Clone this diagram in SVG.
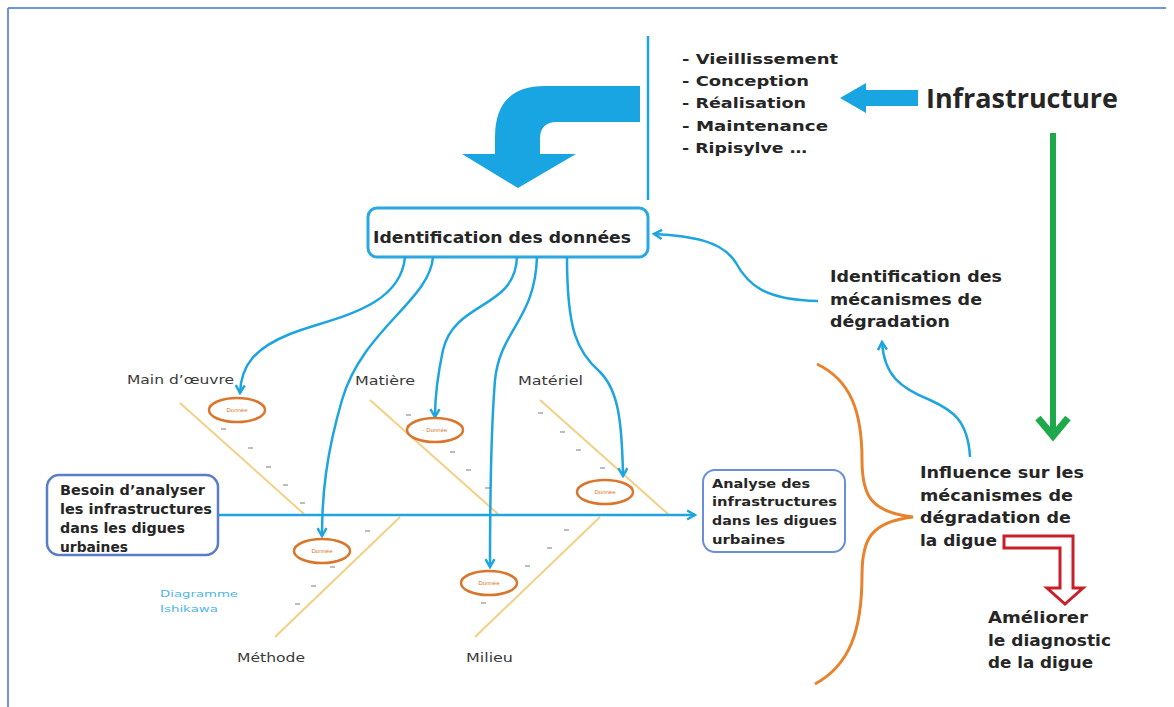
<svg xmlns="http://www.w3.org/2000/svg" width="1174" height="707" viewBox="0 0 1174 707">
<defs>
<style>
.b{font-family:"DejaVu Sans","Open Sans","Liberation Sans",sans-serif;font-weight:700;fill:#262626}
.r{font-family:"DejaVu Sans","Open Sans","Liberation Sans",sans-serif;font-weight:400;fill:#3a3a3a;font-size:12.5px}
.con{fill:none;stroke:#1ea5df;stroke-width:2.5}
.bone{stroke:#f2d084;stroke-width:2;fill:none}
.ell{fill:#fff;stroke:#d9762e;stroke-width:2.5}
.et{font-family:"Liberation Sans",sans-serif;font-size:6px;fill:#d9762e;text-anchor:middle}
.dash{stroke:#8f8f8f;stroke-width:1.2}
</style>
<marker id="ah" viewBox="0 0 10 10" refX="8" refY="5" markerWidth="4.5" markerHeight="4.5" orient="auto" markerUnits="strokeWidth">
<path d="M1,1 L8,5 L1,9" fill="none" stroke="#1ea5df" stroke-width="2.2"/>
</marker>
</defs>
<rect width="1174" height="707" fill="#fff"/>
<g id="frame" fill="none" stroke="#3b73d6" stroke-width="1.5">
<line x1="8" y1="8" x2="1166" y2="8"/>
<line x1="8" y1="8" x2="8" y2="707"/>
</g>

<g id="big-arrow">
<path d="M640,86 L545,86 Q495,86 495,137 L495,154 L462,154 L518,188 L576,154 L540,154 L540,139 Q540,122 557,122 L640,122 Z" fill="#19a4e2"/>
</g>
<g id="separator"><line x1="648" y1="36" x2="648" y2="200" stroke="#1ea5df" stroke-width="2.5"/></g>

<g id="list">
<text class="b" font-size="14.5" lengthAdjust="spacingAndGlyphs" x="682" y="64" textLength="156">- Vieillissement</text>
<text class="b" font-size="14.5" lengthAdjust="spacingAndGlyphs" x="682" y="86" textLength="127">- Conception</text>
<text class="b" font-size="14.5" lengthAdjust="spacingAndGlyphs" x="682" y="108" textLength="124">- Réalisation</text>
<text class="b" font-size="14.5" lengthAdjust="spacingAndGlyphs" x="682" y="131" textLength="146">- Maintenance</text>
<text class="b" font-size="14.5" lengthAdjust="spacingAndGlyphs" x="682" y="153" textLength="125">- Ripisylve …</text>
</g>

<g id="infra-arrow"><path d="M840,98 L866,83 L866,90 L918,90 L918,106 L866,106 L866,113 Z" fill="#19a4e2"/></g>
<g id="infrastructure"><text x="926" y="108" font-family="'Open Sans','DejaVu Sans',sans-serif" font-size="26" font-weight="700" fill="#262626" textLength="192" lengthAdjust="spacingAndGlyphs">Infrastructure</text></g>

<g id="identification-donnees">
<rect x="368" y="208" width="280" height="49" rx="9" fill="#fff" stroke="#2aa8e1" stroke-width="3"/>
<text class="b" x="373" y="243" font-size="15.5" textLength="258" lengthAdjust="spacingAndGlyphs">Identification des données</text>
</g>

<g id="identification-mecanismes">
<text class="b" font-size="15" x="830" y="282" textLength="172" lengthAdjust="spacingAndGlyphs">Identification des</text>
<text class="b" font-size="15" x="830" y="305" textLength="152" lengthAdjust="spacingAndGlyphs">mécanismes de</text>
<text class="b" font-size="15" x="830" y="327" textLength="120" lengthAdjust="spacingAndGlyphs">dégradation</text>
</g>

<g id="fishbone">
<line class="bone" x1="180" y1="403" x2="304" y2="514"/>
<line class="bone" x1="370" y1="400" x2="498" y2="514"/>
<line class="bone" x1="540" y1="400" x2="668" y2="514"/>
<line class="bone" x1="400" y1="517" x2="275" y2="637"/>
<line class="bone" x1="600" y1="517" x2="475" y2="637"/>
<g class="dash">
<line x1="221" y1="429" x2="226" y2="429"/><line x1="248" y1="448" x2="253" y2="448"/><line x1="266" y1="467" x2="271" y2="467"/><line x1="283" y1="485" x2="288" y2="485"/><line x1="300" y1="503" x2="305" y2="503"/>
<line x1="365" y1="531" x2="370" y2="531"/><line x1="330" y1="567" x2="335" y2="567"/><line x1="311" y1="586" x2="316" y2="586"/><line x1="295" y1="604" x2="300" y2="604"/>
<line x1="406" y1="415" x2="411" y2="415"/><line x1="450" y1="452" x2="455" y2="452"/><line x1="466" y1="470" x2="471" y2="470"/><line x1="485" y1="488" x2="490" y2="488"/>
<line x1="538" y1="413" x2="543" y2="413"/><line x1="560" y1="432" x2="565" y2="432"/><line x1="576" y1="450" x2="581" y2="450"/><line x1="600" y1="468" x2="605" y2="468"/>
<line x1="564" y1="530" x2="569" y2="530"/><line x1="547" y1="548" x2="552" y2="548"/><line x1="525" y1="566" x2="530" y2="566"/><line x1="481" y1="603" x2="486" y2="603"/>
</g>
</g>

<g id="labels">
<text class="r" x="127" y="384" textLength="107" lengthAdjust="spacingAndGlyphs">Main d’œuvre</text>
<text class="r" x="355" y="385" textLength="60" lengthAdjust="spacingAndGlyphs">Matière</text>
<text class="r" x="518" y="385" textLength="65" lengthAdjust="spacingAndGlyphs">Matériel</text>
<text class="r" x="237" y="662" textLength="68" lengthAdjust="spacingAndGlyphs">Méthode</text>
<text class="r" x="466" y="662" textLength="47" lengthAdjust="spacingAndGlyphs">Milieu</text>
<text font-family="'DejaVu Sans','Liberation Sans',sans-serif" font-size="9.5" fill="#4fb6ea" x="160" y="597" textLength="78" lengthAdjust="spacingAndGlyphs">Diagramme</text>
<text font-family="'DejaVu Sans','Liberation Sans',sans-serif" font-size="9.5" fill="#4fb6ea" x="160" y="612" textLength="58" lengthAdjust="spacingAndGlyphs">Ishikawa</text>
</g>

<g id="connectors">
<path class="con" d="M405,257 C400,310 330,318 290,334 C255,348 241,365 240,393" marker-end="url(#ah)"/>
<path class="con" d="M433,257 C430,300 362,330 342,400 C326,455 322,495 322,536" marker-end="url(#ah)"/>
<path class="con" d="M517,257 C515,310 455,300 443,350 C437,378 435,395 435,417" marker-end="url(#ah)"/>
<path class="con" d="M537,257 C535,320 500,330 495,380 C491,430 490,520 490,567" marker-end="url(#ah)"/>
<path class="con" d="M567,257 C567,330 577,352 600,372 C618,390 622,420 623,476" marker-end="url(#ah)"/>
<line class="con" x1="206" y1="515" x2="695" y2="515" marker-end="url(#ah)"/>
<path class="con" d="M818,301 C765,300 748,285 736,263 C722,240 690,236 654,234" marker-end="url(#ah)"/>
<path class="con" d="M970,457 C968,420 952,410 930,400 C900,388 884,375 882,342" marker-end="url(#ah)"/>
<g id="green-arrow" stroke="#1ea94b" fill="none">
<line x1="1053" y1="133" x2="1053" y2="434" stroke-width="6"/>
<polyline points="1038,418 1053,436 1068,418" stroke-width="7"/>
</g>
<path id="brace" d="M817,364 C850,380 862,410 862,460 C862,495 870,512 913,517 C870,522 862,540 862,575 C862,630 850,665 815,684" fill="none" stroke="#e8822d" stroke-width="3"/>
<path id="red-arrow" d="M1004,536 L1073,536 L1073,588 L1083,588 L1065,604 L1047,588 L1060,588 L1060,548 L1004,548 Z" fill="#fff" stroke="#c8202a" stroke-width="3" stroke-linejoin="miter"/>
</g>

<g id="ellipses">
<g id="e-main"><ellipse class="ell" cx="237" cy="410" rx="28" ry="12"/><text class="et" x="237" y="412">Donnée</text></g>
<g id="e-matiere"><ellipse class="ell" cx="435" cy="430" rx="28" ry="12"/><text class="et" x="435" y="432">- Donnée</text></g>
<g id="e-materiel"><ellipse class="ell" cx="605" cy="492" rx="28" ry="12"/><text class="et" x="605" y="494">Donnée</text></g>
<g id="e-methode"><ellipse class="ell" cx="322" cy="551" rx="28" ry="12"/><text class="et" x="322" y="553">Donnée</text></g>
<g id="e-milieu"><ellipse class="ell" cx="489" cy="583" rx="28" ry="12"/><text class="et" x="489" y="585">Donnée</text></g>
</g>

<g id="besoin">
<rect x="47" y="475" width="171" height="80" rx="12" fill="#fff" stroke="#5b7dc6" stroke-width="2.5"/>
<text class="b" font-size="14" x="60" y="495" textLength="145" lengthAdjust="spacingAndGlyphs">Besoin d’analyser</text>
<text class="b" font-size="14" x="60" y="514" textLength="152" lengthAdjust="spacingAndGlyphs">les infrastructures</text>
<text class="b" font-size="14" x="60" y="533" textLength="125" lengthAdjust="spacingAndGlyphs">dans les digues</text>
<text class="b" font-size="14" x="60" y="552" textLength="68" lengthAdjust="spacingAndGlyphs">urbaines</text>
</g>

<g id="analyse">
<rect x="703" y="470" width="142" height="82" rx="12" fill="#fff" stroke="#6a8fd8" stroke-width="2"/>
<text class="b" font-size="12.5" x="712" y="488" textLength="98" lengthAdjust="spacingAndGlyphs">Analyse des</text>
<text class="b" font-size="12.5" x="712" y="506" textLength="125" lengthAdjust="spacingAndGlyphs">infrastructures</text>
<text class="b" font-size="12.5" x="712" y="525" textLength="125" lengthAdjust="spacingAndGlyphs">dans les digues</text>
<text class="b" font-size="12.5" x="712" y="544" textLength="73" lengthAdjust="spacingAndGlyphs">urbaines</text>
</g>

<g id="influence">
<text class="b" font-size="15.5" x="920" y="478" textLength="164" lengthAdjust="spacingAndGlyphs">Influence sur les</text>
<text class="b" font-size="15.5" x="920" y="501" textLength="153" lengthAdjust="spacingAndGlyphs">mécanismes de</text>
<text class="b" font-size="15.5" x="920" y="523" textLength="151" lengthAdjust="spacingAndGlyphs">dégradation de</text>
<text class="b" font-size="15.5" x="920" y="546" textLength="77" lengthAdjust="spacingAndGlyphs">la digue</text>
</g>

<g id="ameliorer">
<text class="b" font-size="15.5" x="988" y="623" textLength="100" lengthAdjust="spacingAndGlyphs">Améliorer</text>
<text class="b" font-size="15.5" x="988" y="646" textLength="123" lengthAdjust="spacingAndGlyphs">le diagnostic</text>
<text class="b" font-size="15.5" x="988" y="668" textLength="105" lengthAdjust="spacingAndGlyphs">de la digue</text>
</g>
</svg>
